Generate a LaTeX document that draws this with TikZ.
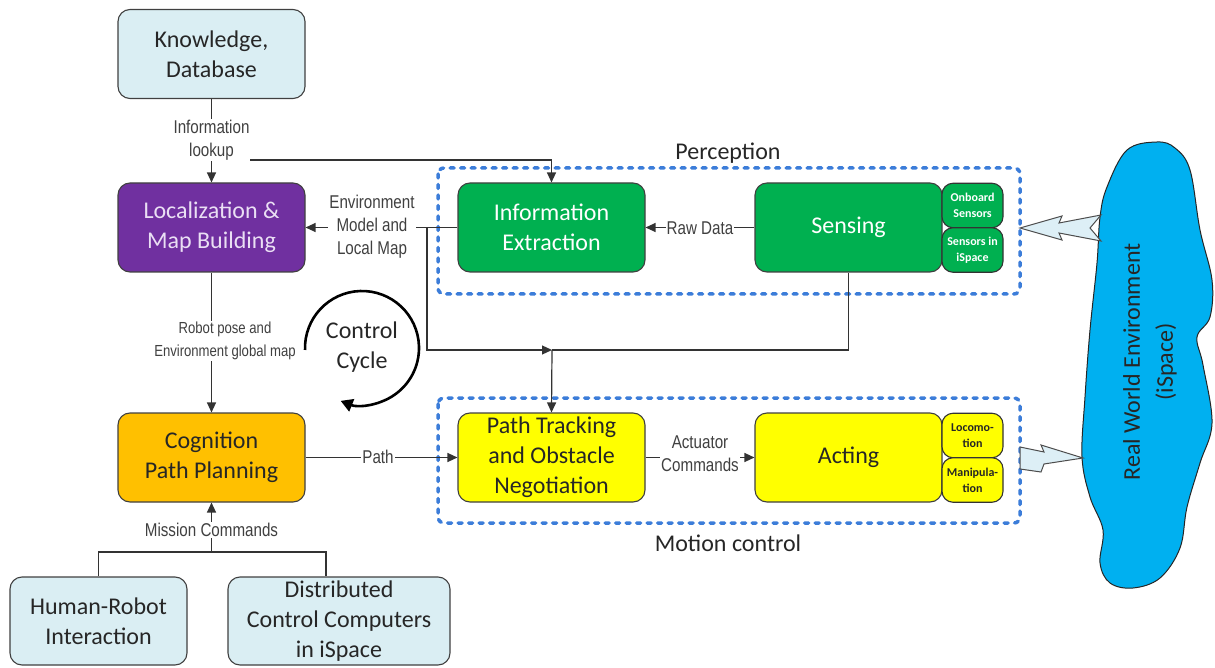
\documentclass[tikz,border=0pt]{standalone}
\usepackage{fontspec}
\setmainfont{Carlito}
\newfontfamily\labfont[FakeStretch=0.82]{Liberation Sans}
\usetikzlibrary{arrows.meta}
\definecolor{lblue}{HTML}{DAEEF3}
\definecolor{purp}{HTML}{7030A0}
\definecolor{purptext}{HTML}{EADFF4}
\definecolor{orng}{HTML}{FFC000}
\definecolor{grn}{HTML}{00B050}
\definecolor{yel}{HTML}{FFFF00}
\definecolor{dblue}{HTML}{3C7DD9}
\definecolor{sky}{HTML}{00B0F0}
\definecolor{bolt}{HTML}{DDEFF6}
\definecolor{txt}{HTML}{262626}
\begin{document}
\begin{tikzpicture}[x=1pt,y=-1pt,
  box/.style={draw=black!75, line width=1.1pt, rounded corners=12pt, minimum width=187pt, minimum height=89pt, align=center, inner sep=0pt, text=txt, font=\fontsize{24}{30}\selectfont},
  sbox/.style={draw=black!80, line width=1.1pt, rounded corners=11pt, minimum width=61pt, minimum height=44.5pt, align=center, inner sep=0pt, font=\bfseries\fontsize{12}{16}\selectfont},
  lab/.style={font=\labfont\fontsize{18.5}{23}\selectfont, text=black!75, fill=white, inner sep=1pt, align=center},
  conn/.style={draw=black!80, line width=1.2pt},
  arr/.style={conn, -{Triangle[length=10pt,width=9pt]}},
  dotbox/.style={draw=dblue, line width=3.5pt, dash pattern=on 4pt off 6.5pt, line cap=round, rounded corners=6pt},
  boltst/.style={draw=black!70, fill=bolt, line width=1pt, line join=miter},
  title/.style={font=\fontsize{24}{30}\selectfont, text=txt}
]
\useasboundingbox (0,0) rectangle (1215,668);

% dashed groups
\draw[dotbox] (438,168) rectangle (1020,294);
\draw[dotbox] (438,398) rectangle (1020,523);
\node[title] (tperc) at (728,153) {Perception};
\node[title] (tmot) at (728,543) {Motion control};

% main nodes
\node[box, fill=lblue] (kn) at (211.5,54) {Knowledge,\\Database};
\node[box, fill=purp, text=purptext] (loc) at (211.5,227.5) {Localization \&\\Map Building};
\node[box, fill=orng] (cp) at (211.5,457.5) {Cognition\\Path Planning};
\node[box, fill=lblue, minimum width=177pt, minimum height=88pt] (hr) at (98.5,621) {Human-Robot\\Interaction};
\node[box, fill=lblue, minimum width=222pt, minimum height=88pt] (dc) at (339,621) {Distributed\\Control Computers\\in iSpace};
\node[box, fill=grn, text=white] (ie) at (551.5,227.5) {Information\\Extraction};
\node[box, fill=grn, text=white] (se) at (848.5,227.5) {Sensing};
\node[sbox, fill=grn, text=white] (ob) at (972.5,205.5) {Onboard\\Sensors};
\node[sbox, fill=grn, text=white] (si) at (972.5,250) {Sensors in\\iSpace};
\node[box, fill=yel] (pt) at (551.5,457.5) {Path Tracking\\and Obstacle\\Negotiation};
\node[box, fill=yel] (ac) at (848.5,457.5) {Acting};
\node[sbox, fill=yel, text=txt] (lo) at (972.5,435.5) {Locomo-\\tion};
\node[sbox, fill=yel, text=txt] (ma) at (972.5,480) {Manipula-\\tion};

% real world environment blob
\draw[draw=black!85, fill=sky, line width=1pt] plot[smooth cycle, tension=0.6] coordinates {
 (1157,142) (1127,150) (1107,187) (1100,217) (1097,263) (1090,330) (1085,397) (1082,457)
 (1090,497) (1103,530) (1100,563) (1110,583) (1133,588) (1160,578) (1180,548) (1187,507)
 (1200,463) (1212,423) (1203,365) (1197,337) (1210,317) (1212,280) (1200,230) (1190,170) (1175,148)};
\node[rotate=90, align=center, text=txt, font=\fontsize{24}{33}\selectfont] (rw) at (1150,362) {Real World Environment\\(iSpace)};

% lightning arrows
\draw[boltst] (1020,228) -- (1062,216) -- (1059,223) -- (1101,215) -- (1090,228) -- (1101,241) -- (1059,233) -- (1062,240) -- cycle;
\draw[boltst] (1020,447) -- (1044,452) -- (1041,445) -- (1083,458) -- (1044,464) -- (1041,472) -- (1020,469) -- cycle;

% junction coordinates
\coordinate (j1) at (211.5,160);
\coordinate (j2) at (427,228);
\coordinate (j4) at (552,350);
\coordinate (j5) at (211.5,552);
\coordinate (j6) at (326,552);

% connectors
\draw[arr] (j1) -| (ie.north);
\draw[arr] (kn.south) -- (loc.north);
\draw[arr] (j2) |- (j4);
\draw[conn] (se.south) |- (j4);
\draw[arr] (j4) -- (pt.north);
\draw[arr] (ie.west) -- (loc.east);
\draw[arr] (se.west) -- (ie.east);
\draw[arr] (loc.south) -- (cp.north);
\draw[arr] (cp.east) -- (pt.west);
\draw[arr] (pt.east) -- (ac.west);
\draw[conn] (hr.north) |- (j5) -- (j6) -- (j6 |- dc.north);
\draw[arr] (j5) -- (cp.south);

% labels
\node[lab] (l1) at (211.5,140) {Information\\lookup};
\node[lab] (l2) at (372,227) {Environment\\Model and\\Local Map};
\node[lab, font=\labfont\fontsize{16}{23}\selectfont] (l3) at (225,341) {Robot pose and\\Environment global map};
\node[lab] (l4) at (378,457) {Path};
\node[lab] (l5) at (700,228) {Raw Data};
\node[lab] (l6) at (700,454) {Actuator\\Commands};
\node[lab] (l7) at (211.5,530) {Mission Commands};

% control cycle
\draw[line width=2.6pt, -{Triangle[length=12pt,width=13pt]}] (362,348) ++(178:57) arc[start angle=178, end angle=472, radius=57];
\node[title, align=center] (cc) at (362,347) {Control\\Cycle};
\end{tikzpicture}
\end{document}
